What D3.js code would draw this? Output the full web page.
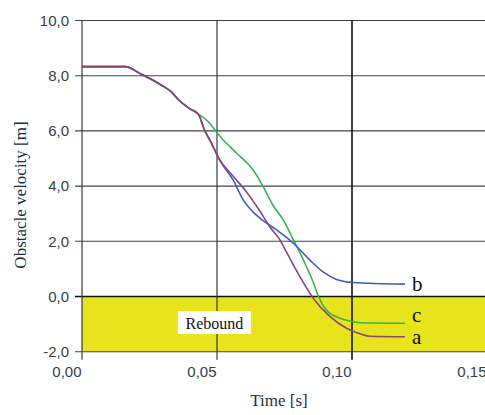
<!DOCTYPE html>
<html>
<head>
<meta charset="utf-8">
<script src="https://cdn.jsdelivr.net/npm/d3@7"></script>
<style>
  body { margin: 0; background: #fff; }
  svg { display: block; }
</style>
</head>
<body>
<div id="chart"></div>
<script>
// ---- data ----
const xTicks = [0, 0.05, 0.10, 0.15];
const xTickLabels = ["0,00", "0,05", "0,10", "0,15"];
const yTicks = [-2, 0, 2, 4, 6, 8, 10];
const yTickLabels = ["-2,0", "0,0", "2,0", "4,0", "6,0", "8,0", "10,0"];

// shared start of all three runs
const startTime = [0, 0.016, 0.022, 0.029, 0.033, 0.036, 0.040, 0.043];
const startVel  = [8.33, 8.33, 8.05, 7.68, 7.42, 7.10, 6.80, 6.62];

const aTime = [0.0455, 0.0474, 0.0511, 0.056, 0.061, 0.066, 0.0696, 0.0733, 0.0758, 0.0807, 0.0857, 0.0919, 0.098, 0.1035, 0.1067, 0.1196];
const aVel  = [6.0, 5.67, 4.94, 4.36, 3.78, 3.08, 2.52, 2.05, 1.60, 0.72, -0.07, -0.73, -1.15, -1.37, -1.44, -1.46];

const bTime = [0.0455, 0.0474, 0.0511, 0.056, 0.0597, 0.0635, 0.0659, 0.0721, 0.0783, 0.0844, 0.0894, 0.0943, 0.1005, 0.1196];
const bVel  = [6.0, 5.65, 4.92, 4.22, 3.50, 3.05, 2.84, 2.41, 1.93, 1.32, 0.88, 0.62, 0.51, 0.45];

const cTime = [0.0468, 0.0499, 0.0523, 0.0548, 0.0573, 0.061, 0.0634, 0.0671, 0.0709, 0.0746, 0.0783, 0.082, 0.0857, 0.0876, 0.0906, 0.0956, 0.1005, 0.103, 0.1196];
const cVel  = [6.33, 5.95, 5.67, 5.43, 5.19, 4.85, 4.58, 3.98, 3.28, 2.77, 2.05, 1.32, 0.50, 0.0, -0.50, -0.79, -0.91, -0.95, -0.97];

const seriesNames = ["c", "b", "a"];
const seriesColors = ["#35b54a", "#3a5cc9", "#8b4579"];

(function(){

    let width = 485, height = 415;

    let svg = d3.select("#chart")
        .append("svg")
        .attr("width", width)
        .attr("height", height);

    // scales
    let x = d3.scaleLinear().domain([0, 0.15]).range([82, 487]);
    let y = d3.scaleLinear().domain([-2, 10]).range([351.7, 20.5]);

    // build the three series (shared start + own tail); a drawn last so it sits on top
    function build(t, v) {
        let pts = startTime.map(function(d, i) { return {t: d, v: startVel[i]}; });
        return pts.concat(t.map(function(d, i) { return {t: d, v: v[i]}; }));
    }
    let series = [
        {name: "c", pts: build(cTime, cVel), labelY: 322},
        {name: "b", pts: build(bTime, bVel), labelY: 291},
        {name: "a", pts: build(aTime, aVel), labelY: 344}
    ];

    // rebound zone
    svg.append("rect")
        .attr("x", x(0))
        .attr("y", y(0))
        .attr("width", width - x(0))
        .attr("height", y(-2) - y(0))
        .style("fill", "#e8e41c");

    // horizontal grid
    svg.selectAll(".hgrid").data(yTicks).enter()
        .append("line")
        .attr("x1", x(0) - 7)
        .attr("x2", width)
        .attr("y1", function(d) { return y(d); })
        .attr("y2", function(d) { return y(d); })
        .style("stroke", function(d) { return d === 0 ? "#111" : "#3d4448"; })
        .style("stroke-width", function(d) { return d === 0 ? 1.6 : 1.1; });

    // vertical grid
    svg.selectAll(".vgrid").data(xTicks).enter()
        .append("line")
        .attr("x1", function(d) { return x(d); })
        .attr("x2", function(d) { return x(d); })
        .attr("y1", y(10))
        .attr("y2", y(-2) + 8)
        .style("stroke", function(d) { return d === 0.10 ? "#111" : "#333a3e"; })
        .style("stroke-width", function(d) { return d === 0.10 ? 1.6 : 1.2; });

    // y axis labels
    let yAxis = svg.append("g")
        .attr("transform", `translate(${x(0)}, 0)`)
        .call(d3.axisLeft(y).tickValues(yTicks).tickSize(0)
            .tickFormat(function(d, i) { return yTickLabels[i]; }));
    yAxis.select(".domain").remove();
    yAxis.selectAll("text")
        .attr("x", -13)
        .style("font-family", "'Liberation Sans', Arial, sans-serif")
        .style("font-size", "15px")
        .style("fill", "#344050");

    // x axis labels
    let xAxis = svg.append("g")
        .attr("transform", `translate(0, ${y(-2)})`)
        .call(d3.axisBottom(x).tickValues(xTicks).tickSize(0)
            .tickFormat(function(d, i) { return xTickLabels[i]; }));
    xAxis.select(".domain").remove();
    xAxis.selectAll("text")
        .attr("y", 15)
        .attr("dx", "-1")
        .style("text-anchor", "end")
        .style("font-family", "'Liberation Sans', Arial, sans-serif")
        .style("font-size", "15px")
        .style("fill", "#344050");

    // rebound label
    svg.append("rect")
        .attr("x", x(0.0355))
        .attr("y", 311)
        .attr("width", 73)
        .attr("height", 23)
        .style("fill", "#fff");
    svg.append("text")
        .attr("x", x(0.0355) + 36.5)
        .attr("y", 329)
        .style("text-anchor", "middle")
        .style("font-family", "'Liberation Serif', 'Times New Roman', serif")
        .style("font-size", "16px")
        .style("fill", "#111")
        .text("Rebound");

    // lines
    let line = d3.line()
        .x(function(d) { return x(d.t); })
        .y(function(d) { return y(d.v); })
        .curve(d3.curveMonotoneX);

    svg.selectAll(".run").data(series).enter()
        .append("path")
        .attr("d", function(d) { return line(d.pts); })
        .style("fill", "none")
        .style("stroke", function(d, i) { return seriesColors[i]; })
        .style("stroke-width", 1.6);

    // end labels
    svg.selectAll(".endlabel").data(series).enter()
        .append("text")
        .attr("x", 412)
        .attr("y", function(d) { return d.labelY; })
        .style("font-family", "'Liberation Serif', 'Times New Roman', serif")
        .style("font-size", "21px")
        .style("fill", "#111")
        .text(function(d) { return d.name; });

    // axis titles
    svg.append("text")
        .attr("transform", `translate(26, ${195}) rotate(-90)`)
        .style("text-anchor", "middle")
        .style("font-family", "'Liberation Serif', 'Times New Roman', serif")
        .style("font-size", "17px")
        .style("fill", "#1c2f3a")
        .text("Obstacle velocity [m]");

    svg.append("text")
        .attr("x", 279)
        .attr("y", 406)
        .style("text-anchor", "middle")
        .style("font-family", "'Liberation Serif', 'Times New Roman', serif")
        .style("font-size", "17px")
        .style("fill", "#1c2f3a")
        .text("Time [s]");

})();
</script>
</body>
</html>
